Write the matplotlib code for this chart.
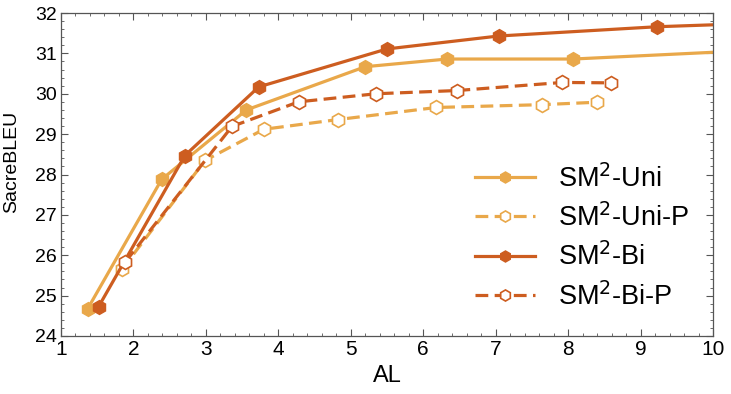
import matplotlib
matplotlib.use("Agg")
import matplotlib.pyplot as plt
from matplotlib.ticker import MultipleLocator

plt.rcParams['font.family'] = ['Liberation Sans', 'DejaVu Sans']

uni_x = [1.37, 2.39, 3.56, 5.2, 6.33, 8.07, 12.0]
uni_y = [24.68, 27.88, 29.6, 30.67, 30.86, 30.86, 31.2]
uni_p_x = [1.84, 2.99, 3.8, 4.82, 6.18, 7.64, 8.4]
uni_p_y = [25.65, 28.35, 29.12, 29.36, 29.66, 29.73, 29.79]
bi_x = [1.52, 2.71, 3.73, 5.5, 7.04, 9.23, 11.5]
bi_y = [24.73, 28.47, 30.17, 31.11, 31.43, 31.66, 31.8]
bi_p_x = [1.89, 3.36, 4.28, 5.35, 6.47, 7.92, 8.59]
bi_p_y = [25.84, 29.19, 29.8, 30.0, 30.08, 30.28, 30.27]

labels = ['SM$^2$-Uni', 'SM$^2$-Uni-P', 'SM$^2$-Bi', 'SM$^2$-Bi-P']
light = '#E9A84A'
dark = '#CD5D20'

fig = plt.figure(figsize=(7.31, 3.94), dpi=100)
ax = fig.add_axes([61/731, 58/394, (713-61)/731, (336-13)/394])

lw = 2.3
ms = 10
ax.plot(uni_x, uni_y, '-', color=light, lw=lw, marker='h', ms=ms, mfc=light, mec=light, label=labels[0])
ax.plot(uni_p_x, uni_p_y, '--', color=light, lw=lw, marker='h', ms=ms, mfc='white', mec=light, mew=1.2, dashes=(4, 2), label=labels[1])
ax.plot(bi_x, bi_y, '-', color=dark, lw=lw, marker='h', ms=ms, mfc=dark, mec=dark, label=labels[2])
ax.plot(bi_p_x, bi_p_y, '--', color=dark, lw=lw, marker='h', ms=ms, mfc='white', mec=dark, mew=1.2, dashes=(4, 2), label=labels[3])

ax.set_xlim(1, 10)
ax.set_ylim(24, 32)
ax.xaxis.set_major_locator(MultipleLocator(1))
ax.xaxis.set_minor_locator(MultipleLocator(0.2))
ax.yaxis.set_major_locator(MultipleLocator(1))
ax.yaxis.set_minor_locator(MultipleLocator(0.2))
ax.tick_params(which='both', direction='in', top=True, right=True, color='#555555')
ax.tick_params(which='major', length=5, width=0.8, pad=3)
ax.tick_params(axis='x', which='major', labelsize=15)
ax.tick_params(axis='y', which='major', labelsize=14)
ax.tick_params(which='minor', length=2.5, width=0.6)
for s in ax.spines.values():
    s.set_color('#555555')
    s.set_linewidth(0.9)

ax.set_xlabel('AL', fontsize=17, labelpad=4)
ax.set_ylabel('SacreBLEU', fontsize=14)
ax.yaxis.set_label_coords(-0.062, 0.54)

leg = ax.legend(loc='lower right', bbox_to_anchor=(0.98, 0.045), borderaxespad=0, frameon=False, fontsize=19.5,
                handlelength=2.2, handletextpad=0.85, labelspacing=0.4, markerscale=0.8)

fig.savefig('out.png', dpi=100)
